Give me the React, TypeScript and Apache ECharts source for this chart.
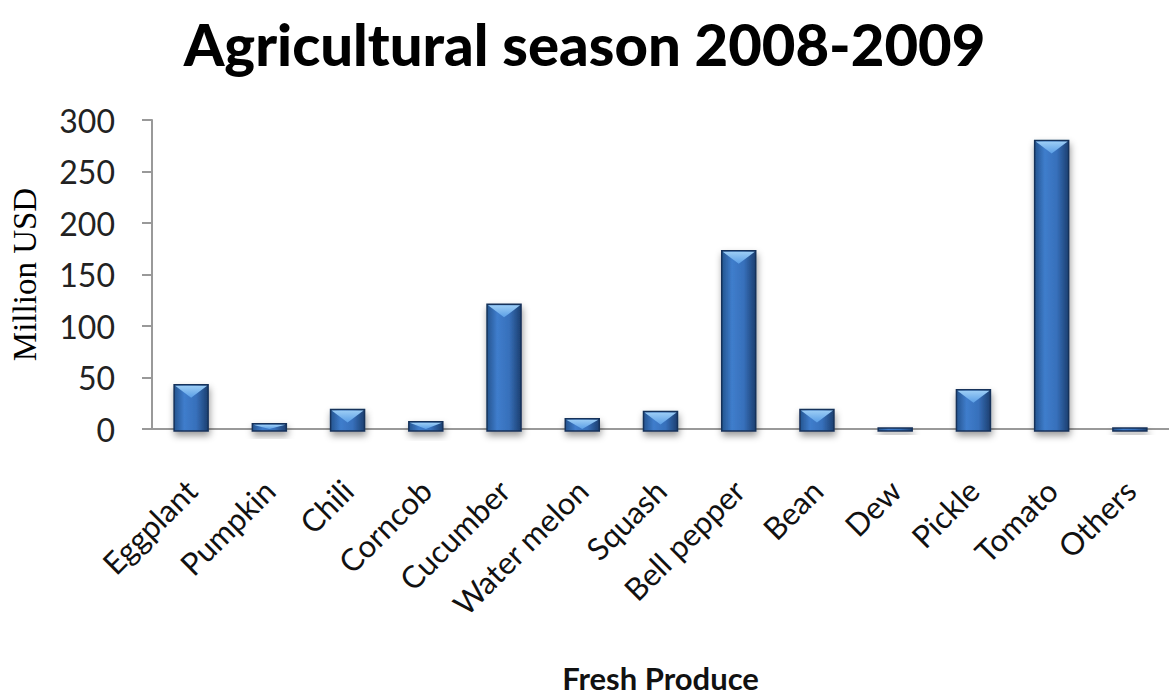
import React, { useEffect, useRef } from "react";
import * as echarts from "echarts";

const categories = [
  "Eggplant", "Pumpkin", "Chili", "Corncob", "Cucumber", "Water melon", "Squash",
  "Bell pepper", "Bean", "Dew", "Pickle", "Tomato", "Others",
];
const values = [43, 5, 19, 7, 121, 10, 17, 173, 19, 1, 38, 280, 1];
const yTicks = { min: 0, max: 300, interval: 50 };
const titleText = "Agricultural season 2008-2009";
const yName = "Million USD";
const xName = "Fresh Produce";

export default function App() {
  const ref = useRef<HTMLDivElement>(null);
  useEffect(() => {
    if (!ref.current) return;
    const chart = echarts.init(ref.current, null, { renderer: "svg" });
    const BW = 34;
    chart.setOption({
      animation: false,
      backgroundColor: "#ffffff",
      title: {
        text: titleText,
        left: "center",
        top: 9,
        textStyle: { fontFamily: "Lato", fontWeight: 900, fontSize: 58, color: "#000" },
      },
      grid: { left: 147, right: -27, top: 120, height: 309, containLabel: false },
      xAxis: {
        type: "category",
        data: categories,
        name: xName,
        nameLocation: "middle",
        nameGap: 233,
        nameTextStyle: {
          fontFamily: "Lato", fontWeight: "bold", fontSize: 31, lineHeight: 31, color: "#111",
        },
        axisLine: { lineStyle: { color: "#999999", width: 2 } },
        axisTick: { show: false },
        axisLabel: {
          rotate: 45,
          interval: 0,
          margin: 56,
          fontFamily: "Lato",
          fontSize: 31,
          color: "#111",
        },
      },
      yAxis: {
        type: "value",
        min: yTicks.min,
        max: yTicks.max,
        interval: yTicks.interval,
        name: yName,
        nameLocation: "middle",
        nameGap: 111,
        nameRotate: 90,
        nameTextStyle: { fontFamily: "Liberation Serif", fontSize: 33, color: "#000" },
        axisLine: { show: true, lineStyle: { color: "#999999", width: 2 } },
        axisTick: { show: true, length: 10, lineStyle: { color: "#999999", width: 2 } },
        splitLine: { show: false },
        axisLabel: { margin: 37, fontFamily: "Lato", fontSize: 32, color: "#222" },
      },
      series: [
        {
          type: "custom",
          data: values.map((v, i) => [i, v]),
          renderItem: (params: any, api: any) => {
            const top = api.coord([api.value(0), api.value(1)]);
            const base = api.coord([api.value(0), 0]);
            const xc = top[0];
            const x0 = xc - BW / 2;
            const x1 = xc + BW / 2;
            const y0 = top[1];
            const y1 = base[1];
            const h = y1 - y0;
            const bev = Math.min(13, h);
            return {
              type: "group",
              children: [
                {
                  type: "rect",
                  shape: { x: x0, y: y0, width: BW, height: h + 2 },
                  style: {
                    fill: {
                      type: "linear", x: 0, y: 0, x2: 1, y2: 0,
                      colorStops: [
                        { offset: 0, color: "#24548f" },
                        { offset: 0.3, color: "#3f7dcc" },
                        { offset: 0.65, color: "#3770bb" },
                        { offset: 1, color: "#1c3f70" },
                      ],
                    },
                    stroke: "#17325a",
                    lineWidth: 1.5,
                    shadowBlur: 7,
                    shadowColor: "rgba(0,0,0,0.4)",
                    shadowOffsetX: 1,
                    shadowOffsetY: 4,
                  },
                },
                {
                  type: "polygon",
                  shape: {
                    points: [
                      [x0 + 1, y0 + 1],
                      [x1 - 1, y0 + 1],
                      [xc, y0 + bev],
                    ],
                  },
                  style: {
                    fill: {
                      type: "linear", x: 0, y: 0, x2: 0, y2: 1,
                      colorStops: [
                        { offset: 0, color: "#9ccdf5" },
                        { offset: 1, color: "#5a9ee6" },
                      ],
                    },
                  },
                },
              ],
            };
          },
          z: 3,
        },
      ],
    });
    return () => chart.dispose();
  }, []);
  return (
    <div
      ref={ref}
      style={{ position: "absolute", left: 0, top: 0, width: 1169, height: 696 }}
    />
  );
}
